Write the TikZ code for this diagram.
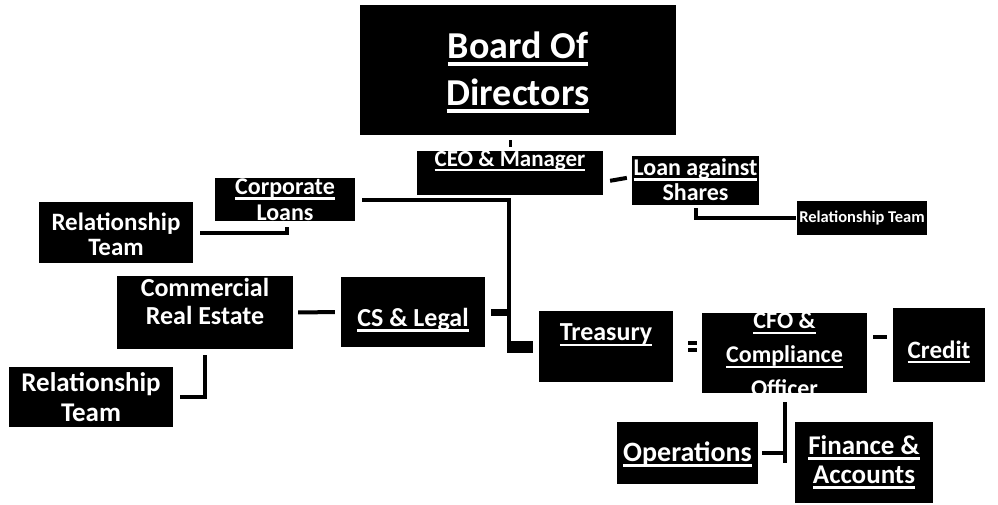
\documentclass[tikz,border=0pt]{standalone}
\usepackage{fontspec}
\setmainfont{Carlito}
\newsavebox{\ulbox}
\newcommand{\undl}[1]{\sbox{\ulbox}{#1}\rlap{\rule[-0.2em]{\wd\ulbox}{0.09em}}\usebox{\ulbox}}
\newcommand{\fs}[2]{\fontsize{#1}{#2}\selectfont\bfseries}
\begin{document}
\begin{tikzpicture}[x=1pt,y=-1pt,
  box/.style={fill=black,inner sep=0pt},
  txt/.style={text=white,align=center,inner sep=0pt},
  link/.style={line width=4pt}]
 \useasboundingbox (0,0) rectangle (998,504);
 % boxes
 \node[box,minimum width=316pt,minimum height=130pt] (board) at (518,70) {};
 \node[box,minimum width=186pt,minimum height=44pt] (ceo) at (510,173) {};
 \node[box,minimum width=127pt,minimum height=49pt] (loan) at (695.5,180.5) {};
 \node[box,minimum width=130pt,minimum height=34pt] (rel3) at (862,218) {};
 \node[box,minimum width=140pt,minimum height=43pt] (cl) at (285,199.5) {};
 \node[box,minimum width=154pt,minimum height=61pt] (rel1) at (116,232.5) {};
 \node[box,minimum width=176pt,minimum height=73pt] (cre) at (205,312.5) {};
 \node[box,minimum width=144pt,minimum height=70pt] (cs) at (413,312) {};
 \node[box,minimum width=164pt,minimum height=60pt] (rel2) at (91,397) {};
 \node[box,minimum width=134pt,minimum height=71pt] (tre) at (606,346.5) {};
 \node[box,minimum width=165pt,minimum height=80pt] (cfo) at (784.5,353) {};
 \node[box,minimum width=92pt,minimum height=74pt] (credit) at (939,345) {};
 \node[box,minimum width=141pt,minimum height=62pt] (ops) at (687.5,453) {};
 \node[box,minimum width=138pt,minimum height=81pt] (fin) at (864,462.5) {};
 % texts
 \node[txt,font=\fs{38}{47}] (board-t) at (518,72) {\undl{Board Of}\\\undl{Directors}};
 \node[txt,font=\fs{23}{26}] (ceo-t) at (510,161) {\undl{CEO \& Manager}};
 \node[txt,font=\fs{24}{25}] (loan-t) at (695.5,180) {\undl{Loan against}\\Shares};
 \node[txt,font=\fs{16.5}{18}] (rel3-t) at (862,218) {Relationship Team};
 \node[txt,font=\fs{24}{26}] (cl-t) at (285,200) {\undl{Corporate}\\Loans};
 \node[txt,font=\fs{25}{25}] (rel1-t) at (116,234) {Relationship\\Team};
 \node[txt,font=\fs{26}{28}] (cre-t) at (205,301) {Commercial\\Real Estate};
 \node[txt,font=\fs{26}{28}] (cs-t) at (413,320) {\undl{CS \& Legal}};
 \node[txt,font=\fs{27}{30}] (rel2-t) at (91,397) {Relationship\\Team};
 \node[txt,font=\fs{26}{28}] (tre-t) at (606,335) {\undl{Treasury}};
 \node[txt,font=\fs{24}{34}] (cfo-t) at (784.5,357) {\undl{CFO \&}\\\undl{Compliance}\\\undl{Officer}};
 \node[txt,font=\fs{25}{28}] (credit-t) at (939,352) {\undl{Credit}};
 \node[txt,font=\fs{28}{30}] (ops-t) at (687.5,454) {\undl{Operations}};
 \node[txt,font=\fs{27}{29}] (fin-t) at (864,462) {\undl{Finance \&}\\\undl{Accounts}};
 % connectors
 \coordinate (foot) at ([xshift=-30pt]tre.west);
 \draw[line width=3pt,shorten <=5pt,shorten >=4pt] (board.south -| ceo.north) -- (ceo.north);
 \draw[link,shorten <=7pt,shorten >=5pt] ([yshift=-9pt]ceo.east) -- ([yshift=3.5pt]loan.west);
 \draw[link,shorten <=3pt,shorten >=1pt] (loan.south) |- (rel3.west);
 \draw[link,shorten <=7pt] (cl.east) -| (foot);
 \draw[line width=12pt,shorten >=6pt] ([xshift=-2pt]foot) -- (tre.west);
 \draw[line width=7pt,shorten <=6pt,shorten >=2pt] (cs.east) -- (cs.east -| foot);
 \draw[link,shorten <=5pt,shorten >=6pt] (cre.east) -- (cs.west);
 \draw[link,shorten <=6pt,shorten >=7pt] (cre.south) |- (rel2.east);
 \draw[link,shorten <=6pt,shorten >=7pt] ([xshift=2pt]cl.south) |- (rel1.east);
 \draw[line width=4pt,double,double distance=3pt,shorten <=15pt,shorten >=5pt] (tre.east) -- (tre.east -| cfo.west);
 \draw[link,shorten <=6pt,shorten >=6pt] ([yshift=16pt]cfo.east) -- ([yshift=8pt]credit.west);
 \draw[link,shorten <=9pt] (cfo.south) -- (cfo.south |- fin.west);
 \draw[link,shorten <=4pt] (ops.east) -- (ops.east -| cfo.south);
\end{tikzpicture}
\end{document}
